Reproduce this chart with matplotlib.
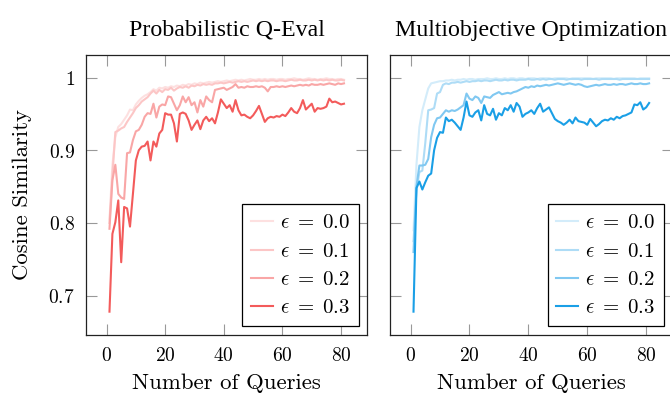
import numpy as np
import matplotlib
matplotlib.use("Agg")
import matplotlib.pyplot as plt
from matplotlib.ticker import FuncFormatter

plt.rcParams["mathtext.fontset"] = "cm"
plt.rcParams["axes.formatter.use_mathtext"] = True

########### data
queries = list(range(1, 82))
eps_labels = [r"$\epsilon\;=\;0.0$", r"$\epsilon\;=\;0.1$", r"$\epsilon\;=\;0.2$", r"$\epsilon\;=\;0.3$"]

# Probabilistic Q-Eval
qeval_00 = [0.805, 0.880, 0.918, 0.932, 0.936, 0.942, 0.948, 0.956, 0.955, 0.963,
            0.968, 0.972, 0.975, 0.977, 0.980, 0.984, 0.982, 0.986, 0.985, 0.987,
            0.986, 0.988, 0.987, 0.989, 0.988, 0.990, 0.989, 0.991, 0.990, 0.992,
            0.991, 0.993, 0.992, 0.993, 0.994, 0.993, 0.994, 0.995, 0.994, 0.995,
            0.996, 0.995, 0.996, 0.997, 0.996, 0.997, 0.996, 0.997, 0.998, 0.997,
            0.997, 0.998, 0.997, 0.998, 0.997, 0.998, 0.998, 0.997, 0.998, 0.998,
            0.997, 0.998, 0.998, 0.999, 0.998, 0.998, 0.997, 0.998, 0.999, 0.998,
            0.998, 0.997, 0.998, 0.998, 0.999, 0.998, 0.998, 0.997, 0.998, 0.998, 0.997]
qeval_01 = [0.800, 0.865, 0.925, 0.927, 0.930, 0.932, 0.939, 0.945, 0.951, 0.958,
            0.962, 0.967, 0.970, 0.973, 0.978, 0.982, 0.978, 0.983, 0.980, 0.984,
            0.983, 0.986, 0.982, 0.985, 0.987, 0.986, 0.988, 0.986, 0.989, 0.988,
            0.990, 0.989, 0.991, 0.990, 0.991, 0.990, 0.992, 0.992, 0.993, 0.992,
            0.993, 0.994, 0.993, 0.994, 0.995, 0.994, 0.995, 0.994, 0.995, 0.996,
            0.995, 0.996, 0.995, 0.996, 0.995, 0.996, 0.996, 0.995, 0.996, 0.996,
            0.995, 0.996, 0.997, 0.996, 0.996, 0.997, 0.996, 0.996, 0.997, 0.996,
            0.997, 0.996, 0.997, 0.996, 0.997, 0.996, 0.997, 0.996, 0.996, 0.997, 0.996]
qeval_02 = [0.792, 0.859, 0.880, 0.840, 0.835, 0.833, 0.896, 0.897, 0.914, 0.926,
            0.928, 0.935, 0.946, 0.951, 0.950, 0.964, 0.945, 0.960, 0.963, 0.962,
            0.974, 0.973, 0.964, 0.955, 0.962, 0.974, 0.966, 0.973, 0.962, 0.966,
            0.952, 0.969, 0.960, 0.974, 0.969, 0.966, 0.983, 0.984, 0.985, 0.986,
            0.983, 0.985, 0.987, 0.991, 0.986, 0.987, 0.986, 0.988, 0.987, 0.987,
            0.988, 0.987, 0.988, 0.986, 0.981, 0.987, 0.987, 0.988, 0.987, 0.988,
            0.987, 0.988, 0.989, 0.988, 0.989, 0.990, 0.989, 0.990, 0.989, 0.991,
            0.990, 0.990, 0.991, 0.990, 0.991, 0.992, 0.991, 0.990, 0.992, 0.991, 0.992]
qeval_03 = [0.678, 0.785, 0.801, 0.831, 0.746, 0.822, 0.820, 0.795, 0.840, 0.886,
            0.900, 0.905, 0.906, 0.912, 0.886, 0.912, 0.905, 0.923, 0.928, 0.951,
            0.949, 0.949, 0.937, 0.912, 0.950, 0.952, 0.950, 0.941, 0.928, 0.935,
            0.941, 0.929, 0.941, 0.946, 0.940, 0.944, 0.937, 0.952, 0.970, 0.964,
            0.958, 0.962, 0.953, 0.969, 0.955, 0.948, 0.949, 0.946, 0.944, 0.948,
            0.954, 0.961, 0.950, 0.939, 0.944, 0.946, 0.945, 0.947, 0.946, 0.949,
            0.947, 0.952, 0.958, 0.953, 0.951, 0.958, 0.969, 0.956, 0.960, 0.964,
            0.953, 0.958, 0.957, 0.958, 0.960, 0.971, 0.966, 0.967, 0.965, 0.963, 0.964]

# Multiobjective Optimization
moo_00 = [0.790, 0.880, 0.932, 0.955, 0.970, 0.985, 0.992, 0.993, 0.994, 0.995,
          0.995, 0.996, 0.996, 0.997, 0.996, 0.997, 0.997, 0.998, 0.997, 0.998,
          0.998, 0.997, 0.998, 0.998, 0.998, 0.999, 0.998, 0.998, 0.999, 0.998,
          0.998, 0.999, 0.998, 0.999, 0.999, 0.998, 0.999, 0.999, 0.998, 0.999,
          0.999, 0.999, 0.998, 0.999, 0.999, 0.999, 0.999, 0.998, 0.999, 0.999,
          0.999, 0.999, 0.999, 0.998, 0.999, 0.999, 0.999, 0.999, 0.999, 0.999,
          0.999, 0.998, 0.999, 0.999, 0.999, 0.999, 0.999, 0.999, 0.998, 0.999,
          0.999, 0.999, 0.999, 0.999, 0.999, 0.999, 0.998, 0.999, 0.999, 0.999, 0.999]
moo_01 = [0.775, 0.845, 0.870, 0.872, 0.910, 0.955, 0.956, 0.958, 0.978, 0.980,
          0.990, 0.992, 0.991, 0.993, 0.993, 0.994, 0.993, 0.994, 0.995, 0.994,
          0.995, 0.995, 0.996, 0.995, 0.996, 0.996, 0.995, 0.996, 0.997, 0.996,
          0.996, 0.997, 0.996, 0.997, 0.997, 0.996, 0.997, 0.997, 0.997, 0.998,
          0.997, 0.997, 0.998, 0.997, 0.998, 0.997, 0.998, 0.998, 0.997, 0.998,
          0.998, 0.998, 0.997, 0.998, 0.998, 0.998, 0.998, 0.997, 0.998, 0.998,
          0.998, 0.998, 0.998, 0.997, 0.998, 0.998, 0.998, 0.998, 0.998, 0.998,
          0.997, 0.998, 0.998, 0.998, 0.998, 0.998, 0.998, 0.998, 0.998, 0.998, 0.998]
moo_02 = [0.760, 0.850, 0.879, 0.879, 0.880, 0.888, 0.918, 0.935, 0.944, 0.945,
          0.950, 0.955, 0.953, 0.955, 0.954, 0.956, 0.959, 0.962, 0.978, 0.971,
          0.969, 0.974, 0.972, 0.965, 0.974, 0.973, 0.972, 0.976, 0.978, 0.980,
          0.977, 0.978, 0.979, 0.978, 0.980, 0.981, 0.983, 0.985, 0.987, 0.986,
          0.988, 0.987, 0.989, 0.988, 0.989, 0.990, 0.989, 0.990, 0.991, 0.992,
          0.991, 0.990, 0.991, 0.992, 0.991, 0.990, 0.991, 0.990, 0.988, 0.987,
          0.988, 0.989, 0.990, 0.989, 0.990, 0.991, 0.990, 0.990, 0.991, 0.990,
          0.991, 0.991, 0.990, 0.991, 0.992, 0.991, 0.991, 0.992, 0.991, 0.991, 0.992]
moo_03 = [0.678, 0.848, 0.857, 0.846, 0.856, 0.865, 0.868, 0.900, 0.917, 0.925,
          0.924, 0.945, 0.940, 0.942, 0.938, 0.933, 0.928, 0.945, 0.967, 0.948,
          0.946, 0.952, 0.955, 0.941, 0.962, 0.950, 0.948, 0.957, 0.942, 0.951,
          0.948, 0.958, 0.955, 0.962, 0.953, 0.965, 0.960, 0.946, 0.950, 0.952,
          0.955, 0.950, 0.958, 0.964, 0.953, 0.956, 0.959, 0.951, 0.943, 0.940,
          0.938, 0.935, 0.938, 0.942, 0.937, 0.945, 0.940, 0.939, 0.938, 0.935,
          0.943, 0.938, 0.933, 0.936, 0.940, 0.942, 0.941, 0.944, 0.942, 0.946,
          0.944, 0.947, 0.948, 0.950, 0.952, 0.963, 0.962, 0.966, 0.956, 0.959, 0.965]

red_shades = ["#fde0e0", "#fcc6c6", "#f9a6a6", "#f35b5b"]
blue_shades = ["#d3ecfa", "#aedcf6", "#80c8f1", "#1a9fe6"]

panels = [
    ("Probabilistic Q-Eval", [qeval_00, qeval_01, qeval_02, qeval_03], red_shades),
    ("Multiobjective Optimization", [moo_00, moo_01, moo_02, moo_03], blue_shades),
]

fig = plt.figure(figsize=(6.7, 3.98), dpi=100)
ax_pos = [[0.1284, 0.1583, 0.42, 0.7035], [0.582, 0.1583, 0.422, 0.7035]]

tick_fmt = FuncFormatter(lambda v, p: f"${v:g}$")

for i, (title, series, colors) in enumerate(panels):
    ax = fig.add_axes(ax_pos[i])
    for s, c, lab in zip(series, colors, eps_labels):
        ax.plot(queries, s, color=c, lw=1.5, label=lab)

    ax.set_xlim(-7, 89)
    ax.set_ylim(0.6459, 1.031)
    ax.set_xticks([0, 20, 40, 60, 80])
    ax.set_yticks([0.7, 0.8, 0.9, 1.0])
    ax.xaxis.set_major_formatter(tick_fmt)
    ax.yaxis.set_major_formatter(tick_fmt)
    ax.tick_params(direction="in", length=8, width=0.8, color="#999999",
                   top=True, right=True, labelsize=14, pad=8)
    if i == 1:
        ax.tick_params(labelleft=False)
    else:
        ax.set_ylabel("Cosine Similarity", family="cmr10", fontsize=16.4, labelpad=12)
    ax.set_xlabel("Number of Queries", family="cmr10", fontsize=16.4, labelpad=6)
    ax.set_title(title, family="Liberation Serif", fontsize=17.2, pad=14)
    for sp in ax.spines.values():
        sp.set_color("#222222")
        sp.set_linewidth(0.9)

    leg = ax.legend(loc="lower right", fontsize=15, frameon=True, fancybox=False,
                    edgecolor="black", framealpha=1, handlelength=1.06,
                    handletextpad=0.33, labelspacing=0.4, borderaxespad=0.42,
                    borderpad=0.42)
    leg.get_frame().set_linewidth(0.9)

plt.savefig("out.png", dpi=100)
